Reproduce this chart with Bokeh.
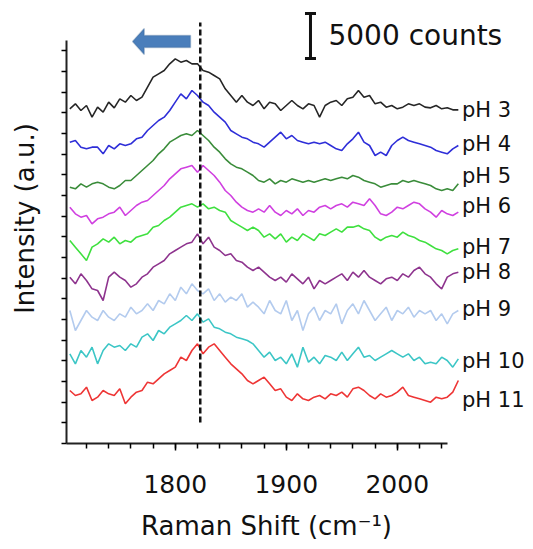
from bokeh.plotting import figure
from bokeh.models import Label, Arrow, TeeHead, PolyAnnotation, FixedTicker, CustomJSTickFormatter
from bokeh.embed import file_html
from bokeh.resources import INLINE

# ---------------- data ----------------
wavenumber = list(range(1705, 2056, 5))  # Raman shift (cm^-1)

ph_labels = ["pH 3", "pH 4", "pH 5", "pH 6", "pH 7", "pH 8", "pH 9", "pH 10", "pH 11"]

ph3 = [1004,1019,999,1014,979,1009,994,1024,1007,1034,1024,1044,1029,1039,1069,1099,1109,1119,1139,1154,1144,1149,1139,1139,1119,1114,1104,1094,1064,1044,1024,1044,1024,1014,1029,1004,1024,1019,999,1014,1029,1014,1004,1019,1014,979,1014,1024,1029,1014,1034,1039,1059,1039,1044,1019,1024,1009,1014,1004,1009,1019,1014,1019,1009,1007,1014,1004,1007,1001,1001]
ph4 = [904,909,889,884,889,889,869,894,884,899,894,899,914,919,939,954,969,979,999,1024,1049,1034,1059,1044,1024,1014,994,979,964,939,929,919,914,904,899,889,904,919,934,914,924,909,904,899,904,899,904,894,884,879,899,914,934,904,894,864,874,864,894,909,919,909,904,899,894,889,879,874,869,884,894]
ph5 = [769,764,779,769,779,784,779,769,764,774,789,789,804,819,834,849,869,884,904,914,924,929,924,939,924,909,889,874,854,839,829,824,814,804,789,784,794,779,789,784,794,789,784,789,784,789,794,789,794,799,794,804,799,789,784,779,769,774,779,779,789,784,789,784,779,774,764,759,764,759,779]
ph6 = [709,689,679,684,659,674,679,689,694,709,684,699,714,724,729,744,759,774,794,809,824,829,834,814,834,819,804,784,759,744,724,709,699,694,704,694,714,694,684,699,689,704,684,699,694,709,714,704,714,719,709,724,719,714,734,714,689,684,694,709,704,714,724,719,704,694,679,699,689,684,694]
ph7 = [609,589,569,549,589,599,614,604,619,599,609,604,619,624,629,649,654,669,679,694,709,714,719,709,719,704,709,699,694,669,659,649,639,649,639,619,629,614,629,604,619,609,629,619,609,629,624,634,644,634,649,649,654,644,639,619,609,619,624,619,634,624,619,609,604,594,584,579,569,579,584]
ph8 = [499,479,509,489,464,459,429,499,514,499,489,469,479,499,509,529,539,549,569,579,589,599,604,629,599,619,589,579,564,569,549,544,529,519,529,514,499,489,499,484,509,494,479,499,464,489,479,489,499,509,489,514,499,519,499,489,479,494,499,489,509,499,519,529,509,499,479,464,499,509,514]
ph9 = [399,339,369,399,379,369,399,379,369,389,379,409,389,399,419,399,429,419,449,429,469,449,479,459,449,464,429,449,424,439,429,449,409,424,409,389,429,399,389,429,369,399,339,389,409,369,399,389,419,359,399,419,389,429,399,369,389,409,369,399,389,409,379,399,389,399,369,389,359,389,399]
ph10 = [269,239,279,259,289,239,279,299,289,294,279,299,289,319,329,309,339,329,349,359,369,384,369,389,364,374,349,344,334,329,319,314,309,299,279,259,274,249,259,239,269,229,289,244,259,239,264,259,249,274,249,269,289,259,264,249,259,269,279,269,259,269,249,259,239,244,239,259,249,229,254]
ph11 = [159,144,149,169,129,139,159,149,144,164,119,139,154,159,184,179,194,209,219,229,259,249,279,299,269,289,299,279,259,239,224,209,189,179,189,199,179,159,164,139,129,149,134,129,139,144,134,149,144,154,139,164,169,159,144,134,149,139,144,154,169,144,139,134,129,124,139,134,139,154,189]

series = [ph3, ph4, ph5, ph6, ph7, ph8, ph9, ph10, ph11]
colors = ["#262626", "#2e2ed8", "#3a8c3a", "#d040e0", "#3fe03f", "#8e348e", "#b3cbee", "#3cc6c6", "#ee3535"]
label_y = [1002, 900, 804, 714, 591, 516, 405, 249, 132]

x_axis_start, x_axis_end = 1702, 2045
y_axis_top = 1209
peak_line_x = 1822.5
scale_bar_x = 1921.8
scale_bar_y = (1155, 1290)  # 5000 counts

FONT = "DejaVu Sans"

p = figure(width=525, height=541, x_range=(1642.54, 2115.5), y_range=(-294, 1329),
           output_backend="svg", toolbar_location=None,
           min_border_left=0, min_border_right=0, min_border_top=0, min_border_bottom=0)
p.outline_line_color = None
p.xgrid.visible = False
p.ygrid.visible = False
p.background_fill_color = "white"

for ys, c in zip(series, colors):
    p.line(wavenumber, ys, line_color=c, line_width=1.6)

# x axis (drawn at intensity 0)
xa = p.xaxis[0]
xa.fixed_location = 0
xa.ticker = FixedTicker(ticks=[1800, 1900, 2000], minor_ticks=list(range(1720, 2041, 20)))
xa.bounds = (x_axis_start, x_axis_end)
xa.axis_line_width = 2
xa.axis_line_color = "#222222"
xa.major_tick_in = 0
xa.major_tick_out = 7
xa.minor_tick_in = 0
xa.minor_tick_out = 5
xa.major_tick_line_width = 1.5
xa.minor_tick_line_width = 1.5
xa.major_label_text_font = FONT
xa.major_label_text_font_size = "25px"
xa.major_label_text_color = "#111111"
xa.major_label_standoff = 24

# y axis (drawn at the left end of the x axis)
ya = p.yaxis[0]
ya.fixed_location = x_axis_start
ya.ticker = FixedTicker(ticks=[i * 62 for i in range(20)], minor_ticks=[])
ya.formatter = CustomJSTickFormatter(code="return ''")
ya.bounds = (0, y_axis_top)
ya.axis_line_width = 2
ya.axis_line_color = "#222222"
ya.major_tick_in = 0
ya.major_tick_out = 5
ya.major_tick_line_width = 1.5

# axis titles
p.add_layout(Label(x=1882.2, y=-248, text="Raman Shift (cm\u207b\u00b9)",
                   text_align="center", text_baseline="middle",
                   text_font=FONT, text_font_size="26px", text_color="#111111"))
p.add_layout(Label(x=1665, y=675, text="Intensity (a.u.)", angle=90, angle_units="deg",
                   text_align="center", text_baseline="middle",
                   text_font=FONT, text_font_size="26px", text_color="#111111"))

# pH labels
for t, yv in zip(ph_labels, label_y):
    p.add_layout(Label(x=2058.3, y=yv, text=t, text_align="left", text_baseline="middle",
                       text_font=FONT, text_font_size="21px", text_color="#111111"))

# dashed peak line
p.add_layout(Arrow(start=None, end=None, x_start=peak_line_x, y_start=63,
                   x_end=peak_line_x, y_end=1263, line_dash="6 3", line_width=2.5,
                   line_color="#111111"))

# scale bar
p.add_layout(Arrow(start=TeeHead(size=11, line_width=3, line_color="#111111"),
                   end=TeeHead(size=11, line_width=3, line_color="#111111"),
                   x_start=scale_bar_x, y_start=scale_bar_y[0],
                   x_end=scale_bar_x, y_end=scale_bar_y[1],
                   line_width=3, line_color="#111111"))
p.add_layout(Label(x=1938, y=1224, text="5000 counts", text_align="left", text_baseline="middle",
                   text_font=FONT, text_font_size="28px", text_color="#111111"))

# block arrow (shift direction)
tip_x, tail_x, cy = 1761.5, 1813.7, 1206
head_len, body_half, head_half = 10.5, 18, 39
p.add_layout(PolyAnnotation(
    xs=[tip_x, tip_x + head_len, tip_x + head_len, tail_x, tail_x, tip_x + head_len, tip_x + head_len],
    ys=[cy, cy + head_half, cy + body_half, cy + body_half, cy - body_half, cy - body_half, cy - head_half],
    fill_color="#4a7ebb", fill_alpha=1.0, line_color="#36608f", line_width=1.5))

open("out.html", "w").write(file_html(p, INLINE))
